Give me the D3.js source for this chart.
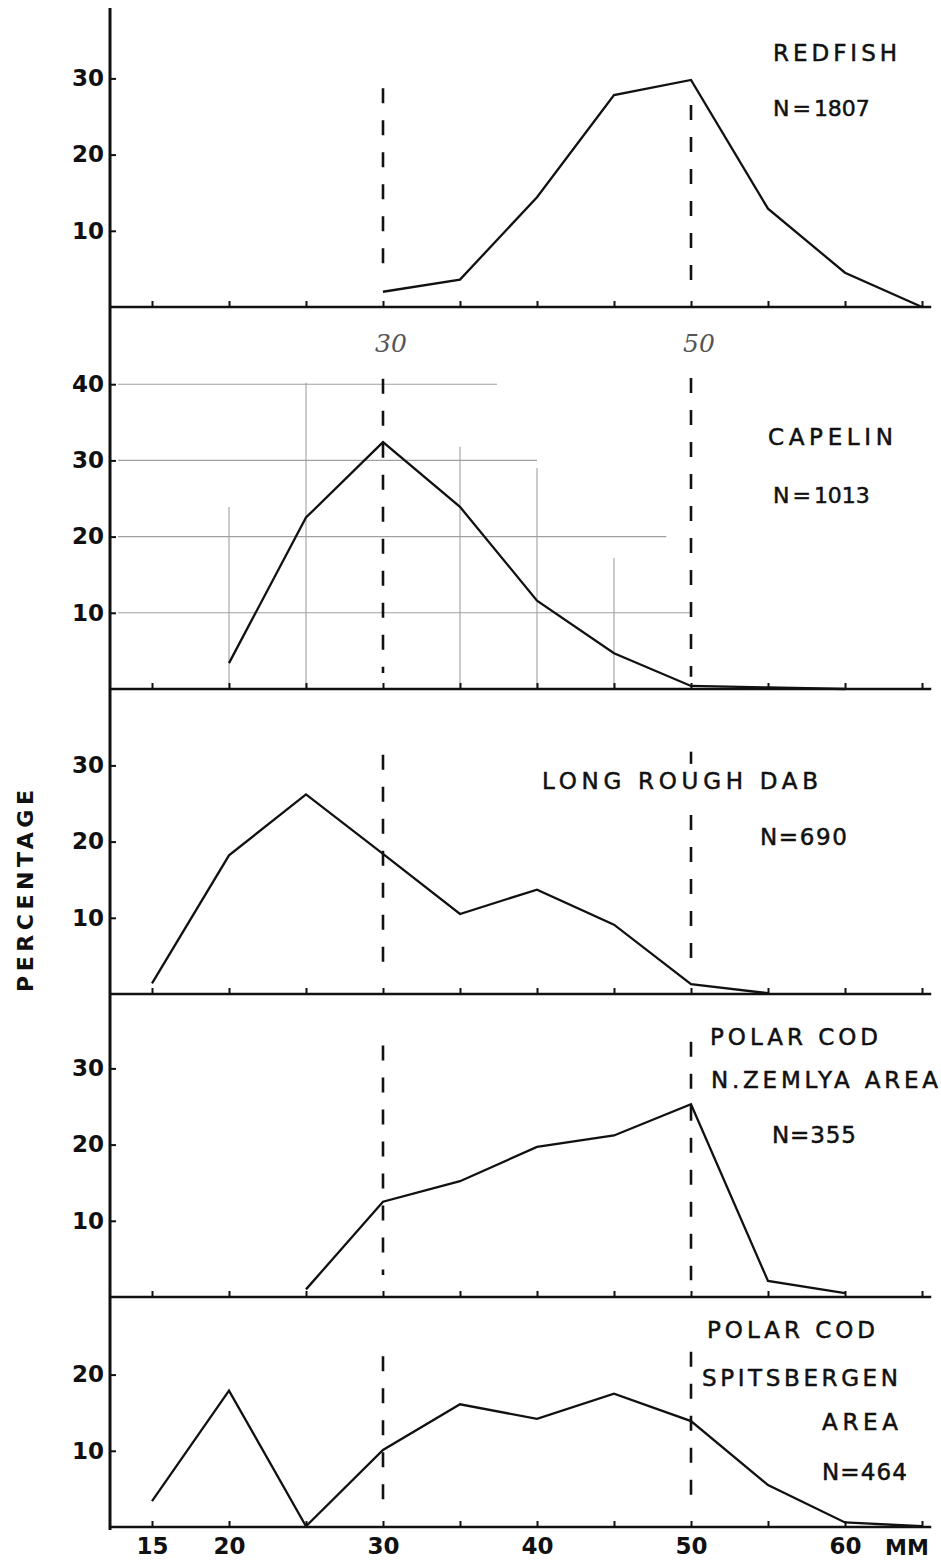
<!DOCTYPE html>
<html>
<head>
<meta charset="utf-8">
<script src="https://cdn.jsdelivr.net/npm/d3@7.9.0/dist/d3.min.js"></script>
<style>
  html, body { margin: 0; padding: 0; background: #fff; }
  svg { display: block; }
  .tick text { font-family: "DejaVu Sans", sans-serif; font-weight: bold; font-size: 23px; fill: #111; }
  .tick line { stroke: #111; stroke-width: 2; }
  .label { font-family: "DejaVu Sans", sans-serif; font-size: 23px; fill: #111; stroke: #111; stroke-width: 0.5; }
</style>
</head>
<body>
<div id="chart"></div>
<script>
// --- data ---
const tickMM = [15, 20, 25, 30, 35, 40, 45, 50, 55, 60, 65];
const tickLabelsMM = [15, 20, 30, 40, 50, 60];
const markerMM = [30, 50];

const redfishMM  = [30, 35, 40, 45, 50, 55, 60, 65];
const redfishPct = [2, 3.6, 14.4, 27.8, 29.8, 12.9, 4.5, 0];

const capelinMM  = [20, 25, 30, 35, 40, 45, 50, 55, 60];
const capelinPct = [3.4, 22.5, 32.4, 23.9, 11.6, 4.7, 0.4, 0.2, 0];

const dabMM  = [15, 20, 25, 30, 35, 40, 45, 50, 55];
const dabPct = [1.4, 18.2, 26.2, 18.4, 10.5, 13.7, 9.1, 1.3, 0.1];

const codNZMM  = [25, 30, 35, 40, 45, 50, 55, 60];
const codNZPct = [1.0, 12.5, 15.2, 19.7, 21.2, 25.3, 2.1, 0.5];

const codSpMM  = [15, 20, 25, 30, 35, 40, 45, 50, 55, 60, 65];
const codSpPct = [3.4, 17.9, 0.1, 10.1, 16.1, 14.2, 17.5, 13.9, 5.5, 0.6, 0.1];

const yTicks = [[10, 20, 30], [10, 20, 30, 40], [10, 20, 30], [10, 20, 30], [10, 20]];

const panelLabels = [
  ['REDFISH', 'N = 1807'],
  ['CAPELIN', 'N = 1013'],
  ['LONG ROUGH DAB', 'N=690'],
  ['POLAR COD', 'N.ZEMLYA AREA', 'N=355'],
  ['POLAR COD', 'SPITSBERGEN', 'AREA', 'N=464']
];

// dashed reference lines: [top %, bottom %] for 30 mm and 50 mm, per panel
const markerSpans = [
  [[28.7, 3.5], [26.5, 2.0]],
  [[40.7, 2.1], [40.8, 1.6]],
  [[31.4, 2.2], [23.5, 2.8]],
  [[33.0, 2.9], [33.5, 2.2]],
  [[22.4, 2.9], [23.0, 3.3]]
];

// faint graph-paper lines on the capelin panel
const capelinGridH = [[10, 50], [20, 48.4], [30, 40], [40, 37.4]];   // [pct, end mm]
const capelinGridV = [[20, 23.9], [25, 40.2], [35, 31.8], [40, 29], [45, 17.2]]; // [mm, top pct]

// --- layout ---
const width = 941, height = 1564;
const axisX = 110;
const baselines = [307, 689, 994, 1297, 1527];
const tops = [8, 307, 689, 994, 1297];
const pxPerPct = 7.62;

// label placement: [x, baseline y, textLength (null = natural)]
const labelPos = [
  [[773, 61, 124], [773, 116, null]],
  [[768, 445, 125], [773, 503, null]],
  [[542, 789, 276], [760, 845, 87]],
  [[710, 1045, 168], [711, 1088, 227], [772, 1143, 84]],
  [[707, 1338, 168], [702, 1386, 196], [822, 1430, 76], [822, 1480, 85]]
];

const series = [
  d3.zip(redfishMM, redfishPct),
  d3.zip(capelinMM, capelinPct),
  d3.zip(dabMM, dabPct),
  d3.zip(codNZMM, codNZPct),
  d3.zip(codSpMM, codSpPct)
];

const svg = d3.select('#chart').append('svg')
  .attr('width', width)
  .attr('height', height);

const x = d3.scaleLinear().domain([15, 60]).range([152, 845]);

function yScaleFor(i) {
  const maxPct = (baselines[i] - tops[i]) / pxPerPct;
  return d3.scaleLinear().domain([0, maxPct]).range([baselines[i], tops[i]]);
}

function renderPanel(i) {
  const y = yScaleFor(i);
  const g = svg.append('g').attr('class', 'panel');

  // capelin grid (pencil lines on the original)
  if (i === 1) {
    const grid = g.append('g').attr('stroke', '#a0a0a0').attr('stroke-width', 1.1);
    grid.selectAll('line.h')
      .data(capelinGridH)
      .join('line')
      .attr('class', 'h')
      .attr('x1', axisX + 8).attr('x2', d => x(d[1]))
      .attr('y1', d => y(d[0])).attr('y2', d => y(d[0]));
    grid.selectAll('line.v')
      .data(capelinGridV)
      .join('line')
      .attr('class', 'v')
      .attr('x1', d => x(d[0])).attr('x2', d => x(d[0]))
      .attr('y1', d => y(d[1])).attr('y2', y(0));

    // handwritten marks above the dashed lines
    g.selectAll('text.hand')
      .data(markerMM)
      .join('text')
      .attr('class', 'hand')
      .attr('x', d => x(d) + 8)
      .attr('y', y(44.2))
      .attr('text-anchor', 'middle')
      .style('font-family', '"DejaVu Serif", serif')
      .style('font-style', 'italic')
      .style('font-size', '25px')
      .style('fill', '#555')
      .text(d => d);
  }

  // dashed reference lines at 30 and 50 mm
  g.selectAll('line.marker')
    .data(markerMM.map((mm, k) => ({ mm, span: markerSpans[i][k] })))
    .join('line')
    .attr('class', 'marker')
    .attr('x1', d => x(d.mm)).attr('x2', d => x(d.mm))
    .attr('y1', d => y(d.span[0])).attr('y2', d => y(d.span[1]))
    .attr('stroke', '#111')
    .attr('stroke-width', 2.6)
    .attr('stroke-dasharray', '15,17');
  if (i === 2) {
    // short dash above the LONG ROUGH DAB label
    g.append('line')
      .attr('x1', x(50)).attr('x2', x(50))
      .attr('y1', y(31.8)).attr('y2', y(30.2))
      .attr('stroke', '#111').attr('stroke-width', 2.6);
  }

  // y ticks
  g.append('g')
    .attr('transform', `translate(${axisX},0)`)
    .call(d3.axisLeft(y).tickValues(yTicks[i]).tickSize(-6).tickPadding(6))
    .call(a => a.select('.domain').remove());

  // x ticks on the baseline
  const xAxis = d3.axisBottom(x).tickValues(tickMM).tickSize(-6);
  if (i === 4) xAxis.tickFormat(d => tickLabelsMM.includes(d) ? d : '').tickPadding(11);
  else xAxis.tickFormat('');
  g.append('g')
    .attr('transform', `translate(0,${baselines[i]})`)
    .call(xAxis)
    .call(a => a.select('.domain').remove());

  // baseline
  g.append('line')
    .attr('x1', axisX).attr('x2', x(65.6))
    .attr('y1', baselines[i]).attr('y2', baselines[i])
    .attr('stroke', '#111').attr('stroke-width', 2.6);

  // the frequency curve
  const line = d3.line().x(d => x(d[0])).y(d => y(d[1]));
  g.append('path')
    .datum(series[i])
    .attr('d', line)
    .attr('fill', 'none')
    .attr('stroke', '#111')
    .attr('stroke-width', 2.3)
    .attr('stroke-linejoin', 'miter');

  // species labels
  g.selectAll('text.label')
    .data(panelLabels[i].map((t, k) => ({ t, p: labelPos[i][k] })))
    .join('text')
    .attr('class', 'label')
    .attr('x', d => d.p[0])
    .attr('y', d => d.p[1])
    .attr('textLength', d => d.p[2])
    .attr('lengthAdjust', d => d.p[2] ? 'spacing' : null)
    .style('font-size', d => d.p[2] ? null : '22px')
    .style('word-spacing', d => d.p[2] ? null : '-4px')
    .text(d => d.t);
}

d3.range(5).forEach(renderPanel);

// shared vertical axis
svg.append('line')
  .attr('x1', axisX).attr('x2', axisX)
  .attr('y1', tops[0]).attr('y2', baselines[4] + 3)
  .attr('stroke', '#111').attr('stroke-width', 3);

// unit on the bottom axis
svg.append('text')
  .attr('x', 907)
  .attr('y', 1555)
  .attr('text-anchor', 'middle')
  .style('font-family', '"DejaVu Sans", sans-serif')
  .style('font-weight', 'bold')
  .style('font-size', '22px')
  .style('fill', '#111')
  .text('MM');

// y axis title
svg.append('text')
  .attr('transform', 'translate(33,891) rotate(-90)')
  .attr('text-anchor', 'middle')
  .attr('textLength', 202)
  .attr('lengthAdjust', 'spacing')
  .style('font-family', '"DejaVu Sans", sans-serif')
  .style('font-weight', 'bold')
  .style('font-size', '22px')
  .style('fill', '#111')
  .text('PERCENTAGE');
</script>
</body>
</html>
